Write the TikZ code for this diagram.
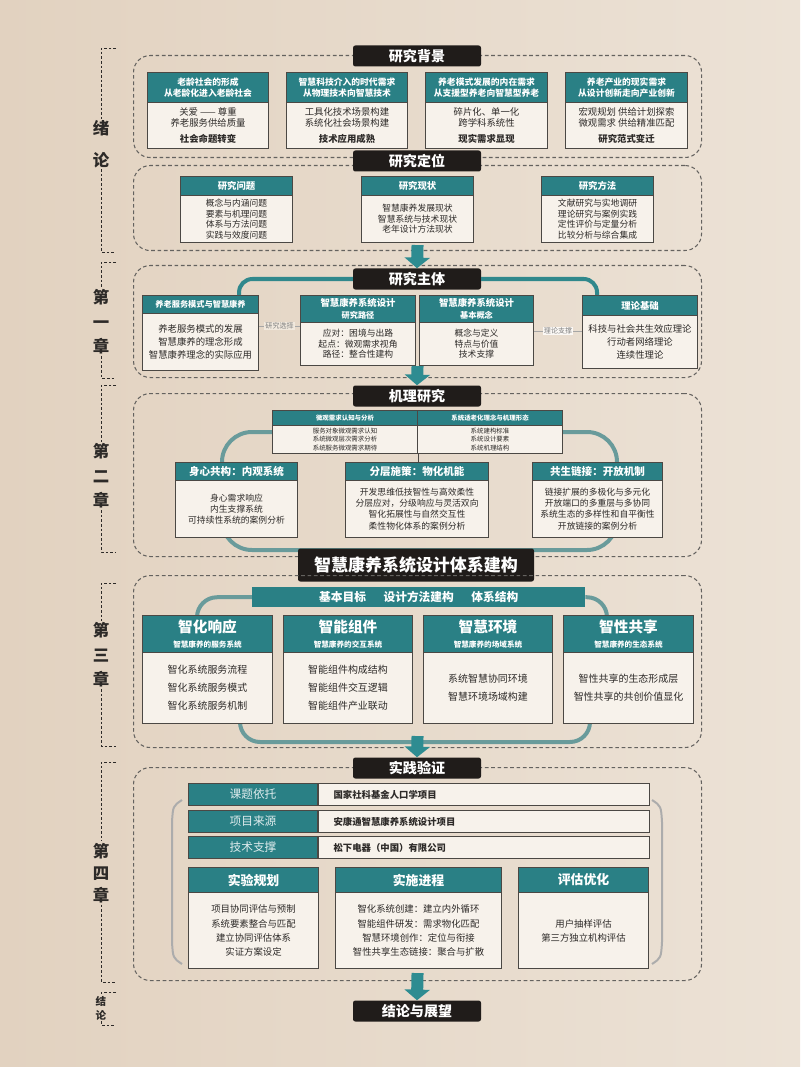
\documentclass[tikz,border=0pt]{standalone}
\usepackage{fontspec}
\setmainfont{Noto Sans CJK SC}
\usetikzlibrary{arrows.meta,positioning}
\pgfdeclarelayer{bg}
\pgfdeclarelayer{back}
\pgfsetlayers{bg,back,main}

\definecolor{bgl}{RGB}{226,210,192}
\definecolor{bgm}{RGB}{241,233,222}
\definecolor{bgr}{RGB}{236,226,214}
\definecolor{tealc}{RGB}{42,128,133}
\definecolor{linec}{RGB}{48,136,140}
\definecolor{loopc}{RGB}{105,155,155}
\definecolor{hdblack}{RGB}{32,28,26}
\definecolor{edgec}{RGB}{75,72,68}
\definecolor{bodyc}{RGB}{247,242,235}
\definecolor{framec}{RGB}{100,98,95}
\definecolor{txtc}{RGB}{45,42,40}
\definecolor{arrowc}{RGB}{46,140,145}

\newcommand{\pxu}{0.3mm}
\newcommand{\fs}[2]{\fontsize{#1}{#2}\selectfont}

\tikzset{
  blackhd/.style={fill=hdblack, text=white, font=\bfseries\fs{12}{14}, minimum width=128*\pxu, minimum height=21*\pxu, rounded corners=2pt, inner sep=0pt},
  headbox/.style={fill=tealc, draw=edgec, line width=0.9pt, text=white, align=center, inner sep=1pt, font=\bfseries\fs{7.5}{10}},
  bodybox/.style={fill=bodyc, draw=edgec, line width=0.9pt, text=txtc, align=center, inner sep=1pt, font=\fs{8}{11}},
  secframe/.style={draw=framec, dash pattern=on 1.1mm off 0.8mm, line width=0.9pt, rounded corners=5mm, inner sep=0pt},
  tline/.style={draw=loopc, line width=1.2mm, rounded corners=6mm},
  tline1/.style={draw=linec, line width=1.2mm, rounded corners=4mm},
  link/.style={draw=gray!70, line width=0.7pt},
  linklab/.style={text=gray, font=\fs{6}{7}, fill=bgm, inner sep=1pt},
  bigarrow/.style={draw=arrowc, line width=3.6mm, -{Triangle[width=7.5mm,length=3.2mm]}},
  chaplab/.style={text=txtc, font=\bfseries\fs{14}{21}, align=center, inner sep=1pt},
  chapline/.style={draw=txtc, dash pattern=on 0.8mm off 0.6mm, line width=0.7pt},
  rowlab/.style={fill=tealc, draw=edgec, line width=0.9pt, text=white!85!tealc, font=\fs{10}{12}, minimum width=129*\pxu, minimum height=22*\pxu, inner sep=0pt},
  rowcell/.style={fill=bodyc, draw=edgec, line width=0.9pt, text=txtc, font=\bfseries\fs{8}{10}, text width=90.3mm, inner xsep=4.5mm, inner ysep=0pt, minimum height=22*\pxu, align=left},
  bracketl/.style={draw=gray!65, line width=0.6mm},
}

% frame, header/body panel, chapter mark, table row
\newcommand{\secbox}[5]{\node[secframe, anchor=north west, minimum width={(#4-#2)*\pxu}, minimum height={(#5-#3)*\pxu}] (#1) at (#2,#3) {};}
\newcommand{\panel}[9]{%
  \node[headbox, anchor=north west, minimum width={(#4-#2)*\pxu}, minimum height={(#5-#3)*\pxu}, #7] (#1h) at (#2,#3) {#8};
  \node[bodybox, anchor=north west, minimum width={(#4-#2)*\pxu}, minimum height={(#6-#5)*\pxu}] (#1) at (#2,#5) {#9};}
\newcommand{\chapmark}[6]{%
  \node[chaplab, #6] (#1) at (101,#4) {#5};
  \draw[chapline] (116,#2) -- (101,#2) -- (#1.north);
  \draw[chapline] (#1.south) -- (101,#3) -- (116,#3);}
\newcommand{\prow}[4]{%
  \node[rowlab, anchor=north west] (#1) at (188,#2) {#3};
  \node[rowcell, anchor=west] (#1c) at (#1.east) {#4};}

\begin{document}
\begin{tikzpicture}[x=0.3mm, y=-0.3mm]
\begin{pgfonlayer}{bg}
  \shade[left color=bgl, middle color=bgm, right color=bgr] (0,0) rectangle (800,1067);
\end{pgfonlayer}
\useasboundingbox (0,0) rectangle (800,1067);

% chapter marks
\chapmark{c0}{48}{252}{144}{绪\\论}{font=\bfseries\fs{14}{27}}
\chapmark{c1}{262}{378}{322}{第\\一\\章}{}
\chapmark{c2}{385}{552}{476}{第\\二\\章}{}
\chapmark{c3}{583}{746}{655}{第\\三\\章}{}
\chapmark{c4}{762}{982}{873}{第\\四\\章}{font=\bfseries\fs{14}{19}}
\chapmark{c5}{992}{1025}{1008}{结\\论}{font=\bfseries\fs{9}{12}}

% ---- 绪论
\secbox{f1}{133}{55}{701}{157}
\node[blackhd] (hbg) at (417,56) {研究背景};
\begin{scope}[bodybox/.append style={font=\fs{8}{9.5}}]
\panel{p11}{147}{72}{268}{102}{148}{}{老龄社会的形成\\从老龄化进入老龄社会}{关爱 —— 尊重\\养老服务供给质量\\[4pt]\textbf{社会命题转变}}
\panel{p12}{286}{72}{407}{102}{148}{}{智慧科技介入的时代需求\\从物理技术向智慧技术}{工具化技术场景构建\\系统化社会场景构建\\[4pt]\textbf{技术应用成熟}}
\panel{p13}{425}{72}{547}{102}{148}{}{养老模式发展的内在需求\\从支援型养老向智慧型养老}{碎片化、单一化\\跨学科系统性\\[4pt]\textbf{现实需求显现}}
\panel{p14}{565}{72}{687}{102}{148}{}{养老产业的现实需求\\从设计创新走向产业创新}{宏观规划 供给计划探索\\微观需求 供给精准匹配\\[4pt]\textbf{研究范式变迁}}
\end{scope}

\secbox{f2}{133}{165}{701}{250}
\node[blackhd] (hdw) at (417,161) {研究定位};
\begin{scope}[bodybox/.append style={font=\fs{7.5}{9}}, headbox/.append style={font=\bfseries\fs{8}{10}}]
\panel{p21}{180}{176}{292}{195}{242}{}{研究问题}{概念与内涵问题\\要素与机理问题\\体系与方法问题\\实践与效度问题}
\panel{p22}{361}{176}{473}{195}{242}{}{研究现状}{智慧康养发展现状\\智慧系统与技术现状\\老年设计方法现状}
\panel{p23}{541}{176}{653}{195}{242}{}{研究方法}{文献研究与实地调研\\理论研究与案例实践\\定性评价与定量分析\\比较分析与综合集成}
\end{scope}

% ---- 第一章
\secbox{f3}{133}{265}{701}{377}
\node[blackhd] (hzt) at (417,279) {研究主体};
\panel{pa}{142}{295}{258}{313}{370}{font=\bfseries\fs{7}{9}}{养老服务模式与智慧康养}{养老服务模式的发展\\智慧康养的理念形成\\智慧康养理念的实际应用}
\begin{scope}[bodybox/.append style={font=\fs{7.5}{9}}]
\panel{pb}{300}{295}{415}{322}{365}{font=\bfseries\fs{8}{10.5}}{智慧康养系统设计\\{\fs{7}{9}研究路径}}{应对：困境与出路\\起点：微观需求视角\\路径：整合性建构}
\panel{pc}{419}{295}{533}{322}{365}{font=\bfseries\fs{8}{10.5}}{智慧康养系统设计\\{\fs{7}{9}基本概念}}{概念与定义\\特点与价值\\技术支撑}
\end{scope}
\panel{pd}{582}{295}{697}{315}{368}{font=\bfseries\fs{8}{10}}{理论基础}{科技与社会共生效应理论\\行动者网络理论\\连续性理论}
\draw[tline1] ([xshift=-20*\pxu]pah.north east) |- (hzt.west);
\draw[tline1] (hzt.east) -| ([xshift=15*\pxu]pdh.north west);
\coordinate (sel) at ([yshift=-12*\pxu]pah.south east);
\draw[link] (sel) -- node[linklab] {研究选择} (sel -| pb.west);
\coordinate (sup) at ([yshift=-8*\pxu]pch.south east);
\draw[link] (sup) -- node[linklab, fill=white!70!bgm] {理论支撑} (sup -| pd.west);

% ---- 第二章
\secbox{f4}{133}{393}{701}{556}
\node[blackhd] (hjl) at (417,396) {机理研究};
\begin{scope}[headbox/.append style={font=\bfseries\fs{5.5}{7}}, bodybox/.append style={font=\fs{5.5}{7}}]
\panel{pt1}{272}{410}{417}{425}{453}{}{微观需求认知与分析}{服务对象微观需求认知\\系统微观层次需求分析\\系统服务微观需求期待}
\panel{pt2}{417}{410}{562}{425}{453}{}{系统适老化理念与机理形态}{系统建构标准\\系统设计要素\\系统机理结构}
\end{scope}
\begin{scope}[headbox/.append style={font=\bfseries\fs{9}{11}}, bodybox/.append style={font=\fs{7.5}{9.5}}]
\panel{pl}{175}{462}{297}{480}{537}{}{身心共构：内观系统}{身心需求响应\\内生支撑系统\\可持续性系统的案例分析}
\panel{pm}{345}{462}{488}{480}{537}{}{分层施策：物化机能}{开发思维低技智性与高效柔性\\分层应对，分级响应与灵活双向\\智化拓展性与自然交互性\\柔性物化体系的案例分析}
\panel{pr}{532}{462}{662}{480}{537}{}{共生链接：开放机制}{链接扩展的多极化与多元化\\开放端口的多重层与多协同\\系统生态的多样性和自平衡性\\开放链接的案例分析}
\end{scope}
\draw[link, draw=edgec] (pt1.south east) -- (pt1.south east |- pmh.north);
\coordinate (k1) at (222,432);
\coordinate (k2) at (617,550);
\begin{pgfonlayer}{back}
  \draw[tline, rounded corners=9mm] (k1) rectangle (k2);
\end{pgfonlayer}
\node[blackhd, minimum width=236*\pxu, minimum height=33*\pxu, font=\bfseries\fs{14.5}{16}] (hsys) at (416,565) {智慧康养系统设计体系建构};

% ---- 第三章
\secbox{f5}{133}{575}{701}{747}
\node[fill=tealc, text=white, font=\bfseries\fs{10}{12}, minimum width=333*\pxu, minimum height=20*\pxu, inner sep=0pt, anchor=north west] (bar) at (252,587) {基本目标\hspace{1.5em}设计方法建构\hspace{1.5em}体系结构};
\begin{scope}[headbox/.append style={font=\bfseries\fs{12.5}{13}}, bodybox/.append style={font=\fs{8.5}{15.5}}]
\panel{s1}{142}{615}{272}{652}{723}{}{智化响应\\{\fs{6.5}{8}智慧康养的服务系统}}{智化系统服务流程\\智化系统服务模式\\智化系统服务机制}
\panel{s2}{283}{615}{412}{652}{723}{}{智能组件\\{\fs{6.5}{8}智慧康养的交互系统}}{智能组件构成结构\\智能组件交互逻辑\\智能组件产业联动}
\panel{s3}{423}{615}{552}{652}{723}{}{智慧环境\\{\fs{6.5}{8}智慧康养的场域系统}}{系统智慧协同环境\\智慧环境场域构建}
\panel{s4}{563}{615}{693}{652}{723}{}{智性共享\\{\fs{6.5}{8}智慧康养的生态系统}}{智性共享的生态形成层\\智性共享的共创价值显化}
\end{scope}
\coordinate (lb) at (415,742);
\begin{pgfonlayer}{back}
  \draw[tline] ([xshift=55*\pxu]s1h.south west) |- (bar.west);
  \draw[tline] (bar.east) -| ([xshift=44*\pxu]s4h.south west);
  \draw[tline] ([xshift=98*\pxu]s1.north west) |- (lb) -| ([xshift=27*\pxu]s4.north west);
\end{pgfonlayer}

% ---- 第四章
\secbox{f6}{133}{767}{701}{980}
\node[blackhd] (hsy) at (417,768) {实践验证};
\prow{r1}{783}{课题依托}{国家社科基金人口学项目}
\prow{r2}{810}{项目来源}{安康通智慧康养系统设计项目}
\prow{r3}{836}{技术支撑}{松下电器（中国）有限公司}
\begin{scope}[headbox/.append style={font=\bfseries\fs{11}{13}}, bodybox/.append style={font=\fs{8}{12}}]
\panel{e1}{188}{867}{318}{892}{968}{}{实验规划}{项目协同评估与预制\\系统要素整合与匹配\\建立协同评估体系\\实证方案设定}
\panel{e2}{335}{867}{501}{892}{968}{}{实施进程}{智化系统创建：建立内外循环\\智能组件研发：需求物化匹配\\智慧环境创作：定位与衔接\\智性共享生态链接：聚合与扩散}
\panel{e3}{518}{867}{648}{892}{968}{}{评估优化}{用户抽样评估\\第三方独立机构评估}
\end{scope}
\draw[bracketl] (182,800) .. controls (173,806) .. (172,822) -- (172,942) .. controls (173,958) .. (182,964);
\draw[bracketl] (652,800) .. controls (661,806) .. (662,822) -- (662,942) .. controls (661,958) .. (652,964);
\node[blackhd] (hjz) at (417,1011) {结论与展望};

% ---- arrows between parts
\draw[bigarrow] ([yshift=6*\pxu]f2.south) -- (hzt.north);
\draw[bigarrow] ([yshift=12*\pxu]f3.south) -- (hjl.north);
\draw[bigarrow] ([yshift=12*\pxu]f5.south) -- (hsy.north);
\draw[bigarrow] ([yshift=8*\pxu]f6.south) -- (hjz.north);
\end{tikzpicture}
\end{document}
